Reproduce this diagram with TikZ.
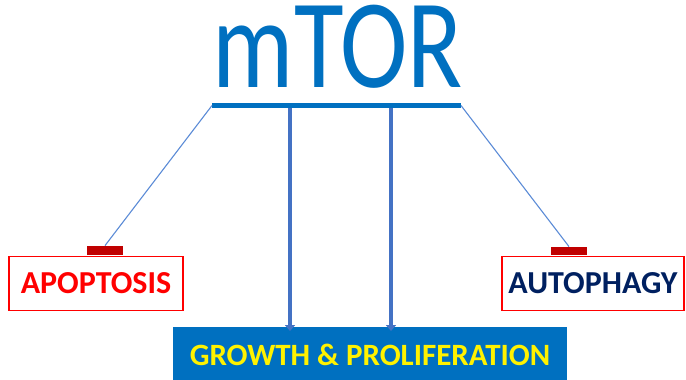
\documentclass[tikz,border=0pt]{standalone}
\usepackage{fontspec}
\setmainfont{Carlito}
\usetikzlibrary{arrows.meta}
\definecolor{mblue}{HTML}{0070C0}
\definecolor{sblue}{HTML}{4472C4}
\definecolor{lblue}{HTML}{5B8BD6}
\definecolor{dred}{HTML}{C00000}
\definecolor{navy}{HTML}{002060}
\tikzset{
  outbox/.style={draw=red, line width=1.2pt, minimum height=54pt, inner sep=0pt, font=\bfseries\fontsize{32}{32}\selectfont},
  thin/.style={draw=lblue, line width=1.1pt},
  arr/.style={draw=sblue, line width=3.5pt, -{Triangle[length=6pt,width=10pt]}},
  inhib/.style={fill=dred, draw=none}
}
\begin{document}
\begin{tikzpicture}[x=1pt,y=-1pt]
\useasboundingbox (0,0) rectangle (686,380);
\node[text=mblue, font=\fontsize{127}{127}\selectfont, anchor=base, inner sep=0pt, text height=74pt, text depth=0pt, xscale=0.8] (mtor) at (338,87) {mTOR};
\coordinate (barL) at (212,105.5);
\coordinate (barR) at (461,105.5);
\draw[draw=mblue, line width=5pt] (barL) -- (barR);
\node[outbox, minimum width=174pt, text=red] (apo) at (96,283.5) {APOPTOSIS};
\node[outbox, minimum width=182pt, text=navy] (auto) at (593,283.5) {AUTOPHAGY};
\node[fill=mblue, minimum width=394pt, minimum height=56pt, inner sep=0pt, text=yellow, font=\bfseries\fontsize{31}{31}\selectfont, anchor=north] (grow) at (370,327) {GROWTH \& PROLIFERATION};
\node[inhib, minimum width=36pt, minimum height=9pt, inner sep=0pt, anchor=south] (ia) at (105,255) {};
\node[inhib, minimum width=36pt, minimum height=8pt, inner sep=0pt, anchor=south] (ib) at (569,255) {};
\draw[thin] (barL) -- (ia.north);
\draw[thin] (barR) -- (ib.north);
\coordinate (a1) at (290,108);
\coordinate (a2) at (391,108);
\draw[arr] (a1) -- ([yshift=-4pt]a1 |- grow.north);
\draw[arr] (a2) -- ([yshift=-4pt]a2 |- grow.north);
\end{tikzpicture}
\end{document}
